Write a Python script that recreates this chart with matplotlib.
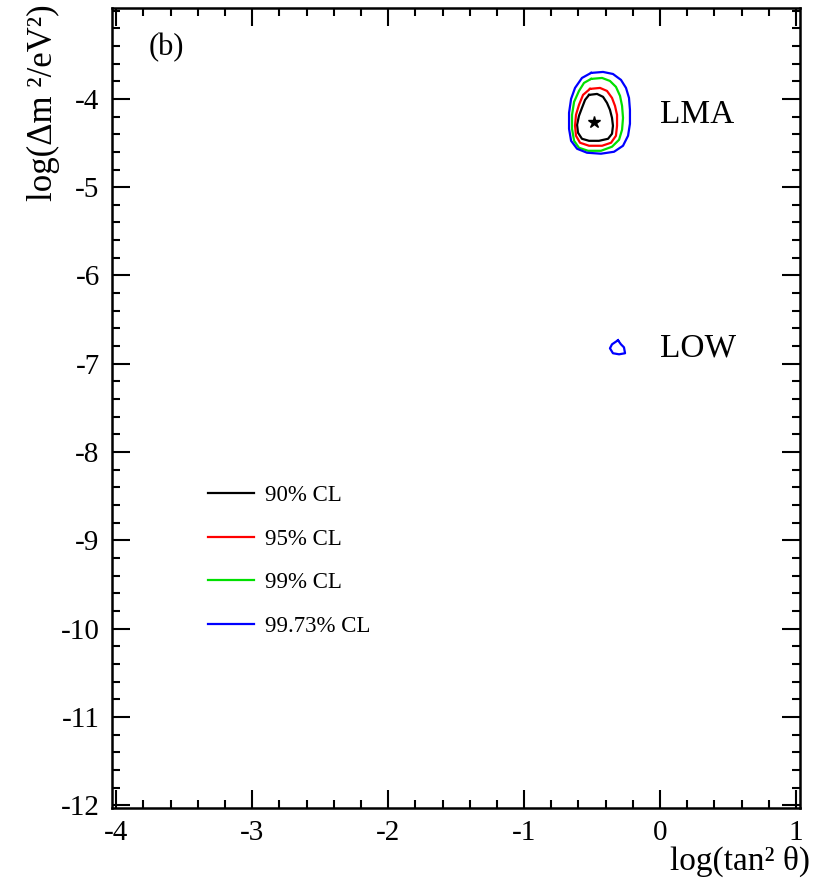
import matplotlib
matplotlib.use('Agg')
import matplotlib.pyplot as plt
from matplotlib.ticker import MultipleLocator

plt.rcParams['font.family'] = ['Liberation Serif', 'DejaVu Serif']
plt.rcParams['axes.unicode_minus'] = False

# contour outlines: log(tan^2 theta), log(dm^2)
cl90_x = [-0.522, -0.463, -0.419, -0.390, -0.368, -0.353, -0.346, -0.353, -0.382,
          -0.449, -0.522, -0.574, -0.603, -0.610, -0.596, -0.574, -0.551]
cl90_y = [-3.955, -3.944, -3.977, -4.045, -4.124, -4.215, -4.305, -4.395, -4.452,
          -4.475, -4.475, -4.452, -4.384, -4.294, -4.192, -4.102, -4.011]

cl95_x = [-0.515, -0.441, -0.390, -0.353, -0.331, -0.316, -0.316, -0.324, -0.360,
          -0.426, -0.522, -0.588, -0.618, -0.625, -0.618, -0.596, -0.566]
cl95_y = [-3.887, -3.876, -3.910, -3.989, -4.079, -4.181, -4.305, -4.418, -4.497,
          -4.531, -4.531, -4.497, -4.418, -4.305, -4.181, -4.068, -3.955]

cl99_x = [-0.507, -0.426, -0.368, -0.324, -0.294, -0.279, -0.272, -0.279, -0.301,
          -0.353, -0.434, -0.529, -0.596, -0.632, -0.647, -0.647, -0.632, -0.596, -0.559]
cl99_y = [-3.774, -3.763, -3.797, -3.864, -3.966, -4.079, -4.215, -4.350, -4.463,
          -4.542, -4.588, -4.588, -4.554, -4.475, -4.339, -4.181, -4.034, -3.910, -3.819]

cl9973_x = [-0.507, -0.419, -0.346, -0.287, -0.250, -0.228, -0.221, -0.221, -0.235, -0.272,
            -0.338, -0.434, -0.537, -0.610, -0.654, -0.669, -0.669, -0.654, -0.625, -0.574]
cl9973_y = [-3.706, -3.695, -3.718, -3.785, -3.876, -3.989, -4.124, -4.282, -4.418, -4.531,
            -4.599, -4.621, -4.610, -4.565, -4.475, -4.339, -4.158, -4.000, -3.876, -3.763]

# LOW island (99.73% only)
low_x = [-0.309, -0.287, -0.265, -0.257, -0.301, -0.346, -0.368, -0.353, -0.331]
low_y = [-6.734, -6.780, -6.814, -6.881, -6.893, -6.881, -6.825, -6.780, -6.757]

best_fit = (-0.485, -4.26)

contours = [
    (cl90_x, cl90_y, 'black', '90% CL'),
    (cl95_x, cl95_y, 'red', '95% CL'),
    (cl99_x, cl99_y, '#00e000', '99% CL'),
    (cl9973_x, cl9973_y, 'blue', '99.73% CL'),
]

fig = plt.figure(figsize=(8.13, 8.81), dpi=100)
ax = fig.add_axes([0.138, 0.083, 0.846, 0.908])

handles = []
for xs, ys, col, lab in contours:
    h, = ax.plot(xs + xs[:1], ys + ys[:1], color=col, lw=1.6, label=lab)
    handles.append(h)
ax.plot(low_x + low_x[:1], low_y + low_y[:1], color='blue', lw=1.6)

ax.plot(*best_fit, marker='*', color='black', markersize=9, linestyle='none')

ax.text(0.0, -4.18, 'LMA', fontsize=24, va='center', ha='left')
ax.text(0.0, -6.82, 'LOW', fontsize=24, va='center', ha='left')
ax.text(0.053, 0.95, '(b)', fontsize=22, va='center', ha='left', transform=ax.transAxes)

ax.set_xlim(-4.03, 1.03)
ax.set_ylim(-12.03, -2.97)

ax.xaxis.set_major_locator(MultipleLocator(1))
ax.xaxis.set_minor_locator(MultipleLocator(0.2))
ax.yaxis.set_major_locator(MultipleLocator(1))
ax.yaxis.set_minor_locator(MultipleLocator(0.2))
ax.set_yticks(range(-12, -3))
ax.tick_params(which='both', direction='in', top=True, right=True, width=1.5,
               labelsize=21)
ax.tick_params(which='major', length=13, pad=9)
ax.tick_params(which='minor', length=6)
for s in ax.spines.values():
    s.set_linewidth(1.8)

ax.text(1.014, -0.047, 'log(tan² θ)', fontsize=24, ha='right', va='top',
        transform=ax.transAxes)
ax.text(-0.1, 1.005, 'log(Δm ²/eV²)', fontsize=25, ha='center', va='top',
        rotation=90, transform=ax.transAxes)

ax.legend(handles=handles, loc='upper left', bbox_to_anchor=(0.11, 0.43),
          frameon=False, fontsize=16.5, handlelength=2.0, handletextpad=0.45,
          labelspacing=1.0)

plt.savefig('out.png', dpi=100)
